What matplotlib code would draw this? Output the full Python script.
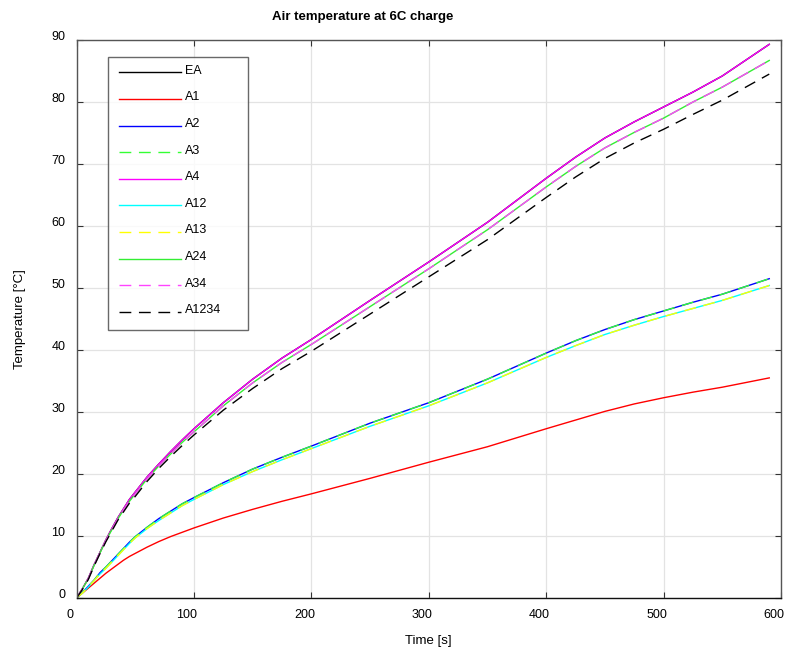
import matplotlib
matplotlib.use("Agg")
import matplotlib.pyplot as plt
from matplotlib.transforms import ScaledTranslation

plt.rcParams['font.family'] = ['Liberation Sans', 'DejaVu Sans']

# Sample times [s]
time_s = [0, 5, 10, 15, 20, 25, 30, 35, 40, 45, 50, 60, 70, 80, 90, 100, 125,
          150, 175, 200, 250, 300, 350, 400, 425, 450, 475, 500, 525, 550, 590]

# Air temperature [°C] for each configuration
a4_temp = [0, 1.5, 3.2, 5.4, 7.4, 9.4, 11.2, 12.9, 14.4, 15.9, 17.1, 19.5,
           21.6, 23.6, 25.5, 27.3, 31.5, 35.3, 38.7, 41.7, 48.0, 54.2, 60.6,
           67.7, 71.1, 74.2, 76.8, 79.2, 81.6, 84.2, 89.3]
ea_temp = list(a4_temp)
a24_temp = [0, 1.5, 3.1, 5.3, 7.3, 9.3, 11.0, 12.7, 14.2, 15.6, 16.8, 19.2,
            21.3, 23.2, 25.1, 26.8, 31.0, 34.7, 38.0, 40.9, 47.0, 53.1, 59.4,
            66.3, 69.6, 72.6, 75.1, 77.4, 80.0, 82.4, 86.7]
a34_temp = list(a24_temp)
a1234_temp = [0, 1.4, 3.0, 5.2, 7.2, 9.1, 10.8, 12.5, 13.9, 15.3, 16.4, 18.8,
              20.9, 22.8, 24.6, 26.3, 30.3, 33.8, 37.0, 39.8, 45.8, 51.8, 57.8,
              64.6, 67.9, 70.9, 73.4, 75.6, 78.0, 80.3, 84.5]
a2_temp = [0, 0.9, 1.9, 2.9, 4.1, 5.0, 6.0, 7.0, 8.0, 9.0, 9.9, 11.4, 12.8,
           14.0, 15.2, 16.2, 18.6, 20.8, 22.7, 24.5, 28.2, 31.5, 35.3, 39.5,
           41.5, 43.3, 44.9, 46.3, 47.7, 49.0, 51.5]
a3_temp = list(a2_temp)
a12_temp = [0, 0.8, 1.8, 2.8, 3.9, 4.8, 5.8, 6.8, 7.8, 8.8, 9.7, 11.2, 12.5,
            13.7, 14.9, 15.9, 18.3, 20.4, 22.3, 24.1, 27.7, 31.0, 34.7, 38.8,
            40.7, 42.5, 44.0, 45.4, 46.7, 48.0, 50.4]
a13_temp = list(a12_temp)
a1_temp = [0, 0.8, 1.6, 2.4, 3.2, 4.0, 4.7, 5.4, 6.1, 6.7, 7.2, 8.2, 9.1,
           9.9, 10.6, 11.3, 12.9, 14.3, 15.6, 16.8, 19.3, 21.9, 24.4, 27.3,
           28.7, 30.1, 31.3, 32.3, 33.2, 34.0, 35.5]

series = [
    ("EA", ea_temp, "#000000", "-"),
    ("A1", a1_temp, "#ff0000", "-"),
    ("A2", a2_temp, "#0000ff", "-"),
    ("A3", a3_temp, "#33ff33", "--"),
    ("A4", a4_temp, "#ff00ff", "-"),
    ("A12", a12_temp, "#00ffff", "-"),
    ("A13", a13_temp, "#ffff00", "--"),
    ("A24", a24_temp, "#33ee33", "-"),
    ("A34", a34_temp, "#ff44ff", "--"),
    ("A1234", a1234_temp, "#000000", "--"),
]

x_ticks = [0, 100, 200, 300, 400, 500, 600]
y_ticks = [0, 10, 20, 30, 40, 50, 60, 70, 80, 90]

fig = plt.figure(figsize=(7.88, 6.53), dpi=100)
ax = fig.add_axes([76.6 / 788, 1 - 598 / 653, (781 - 76.6) / 788, (598 - 40) / 653])

for name, vals, color, ls in series:
    line, = ax.plot(time_s, vals, color=color, lw=1.0, label=name)
    if ls == "--":
        line.set_dashes((8.5, 5.5))

ax.set_xlim(0, 600)
ax.set_ylim(0, 90)
ax.set_xticks(x_ticks)
ax.set_yticks(y_ticks)
ax.grid(True, color="#e3e3e3", lw=0.9)
ax.set_axisbelow(True)
ax.tick_params(direction="in", length=4, top=True, right=True,
               labelsize=9, pad=8, color="#333333")
for side in ax.spines.values():
    side.set_color("#555555")
    side.set_linewidth(1.0)
ax.spines["bottom"].set_color("#111111")

# Nudge tick labels: x labels slightly left, y labels slightly up
x_shift = ScaledTranslation(-7 / 100, 0, fig.dpi_scale_trans)
y_shift = ScaledTranslation(0, 5 / 100, fig.dpi_scale_trans)
for lab in ax.get_xticklabels():
    lab.set_transform(lab.get_transform() + x_shift)
for lab in ax.get_yticklabels():
    lab.set_transform(lab.get_transform() + y_shift)

ax.set_xlabel("Time [s]", fontsize=9.5, labelpad=10)
ax.set_ylabel("Temperature [°C]", fontsize=9.5, labelpad=18)
fig.text(363 / 788, 1 - 17 / 653, "Air temperature at 6C charge",
         ha="center", va="center", fontsize=9.5, fontweight="bold")

leg_x0, leg_y1 = 108 / 788, 1 - 57 / 653
leg_w = (248 - 108) / 788
leg = ax.legend(loc="upper left", bbox_to_anchor=(leg_x0, leg_y1 - 0.5, leg_w, 0.5),
                bbox_transform=fig.transFigure, mode="expand", fontsize=9,
                frameon=True, fancybox=False, handlelength=5.0,
                handletextpad=0.3, labelspacing=1.17, borderpad=0.85,
                borderaxespad=0)
leg.get_frame().set_edgecolor("#444444")
leg.get_frame().set_linewidth(1.0)
for t in leg.get_texts():
    t.set_va("bottom")

fig.savefig("out.png", dpi=100)
